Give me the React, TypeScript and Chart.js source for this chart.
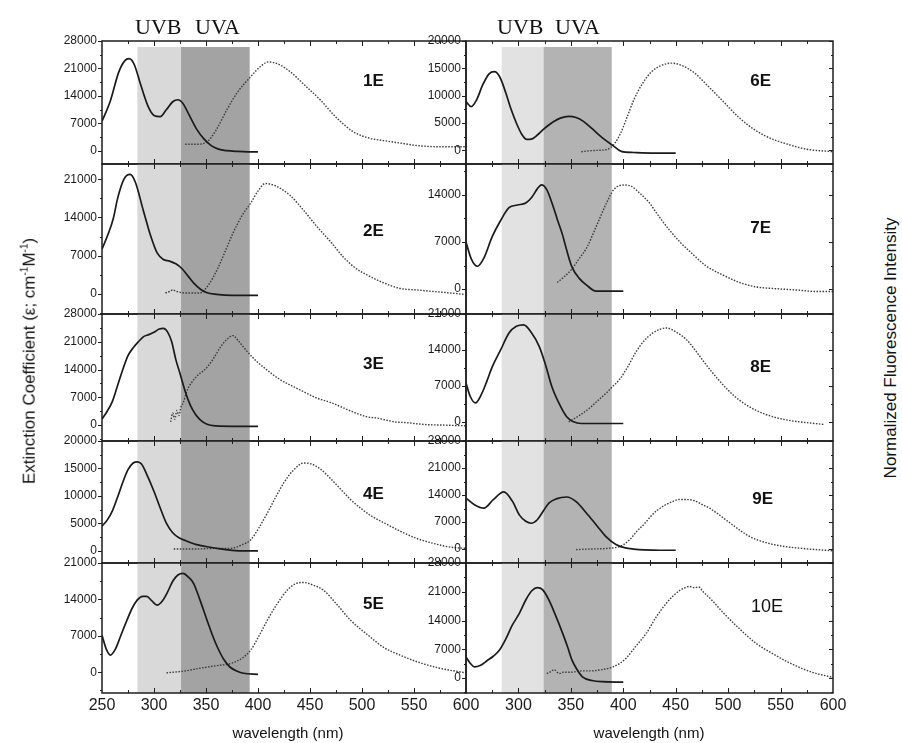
import React, { useEffect, useRef } from "react";
import { Chart, registerables } from "chart.js";

Chart.register(...registerables);

// ---------------- DATA ----------------
// wavelength tick labels
const X_TICKS_LEFT = [250, 300, 350, 400, 450, 500, 550, 600];
const X_TICKS_RIGHT = [300, 350, 400, 450, 500, 550, 600];

// UV bands (nm): [UVB, UVA]
const BANDS_LEFT = [[284, 326], [326, 392]];
const BANDS_RIGHT = [[284, 324], [324, 389]];

// 1E
const nm1E_abs = [250, 258, 266, 272, 276, 281, 287, 294, 300, 306, 312, 318, 323, 328, 334, 341, 348, 355, 362, 370, 380, 390, 400];
const eps1E = [7500, 12700, 20000, 23000, 23500, 22000, 17000, 11500, 9000, 8700, 10500, 12500, 13000, 12000, 9000, 5500, 3000, 1300, 400, 0, -200, -300, -300];
const nm1E_fl = [330, 340, 351, 360, 370, 380, 393, 402, 410, 420, 431, 445, 460, 475, 492, 507, 521, 537, 553, 575, 600];
const fl1E = [0.16, 0.16, 0.18, 0.28, 0.44, 0.58, 0.71, 0.79, 0.83, 0.81, 0.75, 0.64, 0.52, 0.38, 0.26, 0.21, 0.19, 0.17, 0.15, 0.14, 0.14];
const ticks1E = [0, 7000, 14000, 21000, 28000];
const range1E = [-3400, 28000];

// 2E
const nm2E_abs = [250, 256, 261, 265, 271, 277, 282, 290, 297, 303, 309, 315, 321, 327, 333, 338, 345, 351, 360, 375, 390, 400];
const eps2E = [8200, 11000, 13900, 17500, 21000, 21900, 20500, 15100, 10500, 7500, 6300, 6000, 5500, 4600, 3200, 2000, 800, 200, -100, -300, -300, -300];
const nm2E_fl = [311, 315, 318, 322, 330, 344, 352, 361, 368, 376, 385, 393, 400, 407, 418, 431, 444, 457, 470, 482, 493, 505, 520, 537, 553, 569, 585, 600];
const fl2E = [0.14, 0.15, 0.16, 0.15, 0.14, 0.14, 0.19, 0.30, 0.41, 0.54, 0.66, 0.74, 0.82, 0.87, 0.85, 0.79, 0.69, 0.58, 0.48, 0.38, 0.31, 0.26, 0.21, 0.17, 0.16, 0.15, 0.14, 0.13];
const ticks2E = [0, 7000, 14000, 21000];
const range2E = [-3700, 23800];

// 3E
const nm3E_abs = [250, 255, 260, 265, 270, 275, 280, 285, 290, 295, 300, 305, 309, 313, 317, 321, 325, 330, 335, 340, 345, 351, 360, 375, 400];
const eps3E = [1500, 3500, 6000, 10000, 14000, 17500, 19500, 21000, 22300, 22800, 23400, 24200, 24400, 23500, 21000, 16500, 13000, 8500, 5000, 2700, 1200, 200, -200, -300, -300];
const nm3E_fl = [316, 318, 320, 322, 324, 326, 328, 332, 340, 351, 358, 364, 370, 376, 381, 388, 397, 407, 420, 441, 456, 471, 488, 505, 515, 523, 532, 542, 560, 580, 600];
const fl3E = [0.15, 0.22, 0.17, 0.24, 0.2, 0.27, 0.3, 0.40, 0.50, 0.58, 0.66, 0.74, 0.80, 0.83, 0.79, 0.72, 0.64, 0.57, 0.49, 0.40, 0.34, 0.30, 0.24, 0.19, 0.18, 0.165, 0.15, 0.145, 0.13, 0.125, 0.12];
const ticks3E = [0, 7000, 14000, 21000, 28000];
const range3E = [-4000, 28000];

// 4E
const nm4E_abs = [250, 255, 260, 265, 270, 275, 280, 284, 288, 294, 300, 306, 312, 318, 324, 330, 340, 350, 362, 375, 390, 400];
const eps4E = [4500, 5600, 7300, 9800, 12500, 14800, 16000, 16200, 15800, 13500, 10800, 7800, 5000, 3300, 2400, 1900, 1200, 800, 400, 100, 0, 0];
const nm4E_fl = [319, 340, 360, 373, 385, 393, 401, 409, 417, 425, 434, 444, 452, 460, 470, 480, 489, 500, 510, 521, 537, 553, 569, 585, 600];
const fl4E = [0.115, 0.115, 0.12, 0.12, 0.15, 0.19, 0.29, 0.41, 0.54, 0.66, 0.76, 0.82, 0.81, 0.77, 0.69, 0.6, 0.52, 0.44, 0.38, 0.33, 0.26, 0.2, 0.16, 0.13, 0.12];
const ticks4E = [0, 5000, 10000, 15000, 20000];
const range4E = [-2200, 20000];

// 5E
const nm5E_abs = [250, 254, 258, 263, 268, 274, 279, 284, 289, 293, 298, 303, 308, 313, 318, 323, 328, 333, 338, 344, 351, 356, 361, 367, 373, 380, 386, 400];
const eps5E = [7100, 4500, 3300, 4500, 7000, 10000, 12300, 13900, 14600, 14600, 13700, 12900, 13700, 15400, 17500, 18700, 19000, 18300, 17100, 14000, 10000, 7200, 4800, 2500, 1000, 200, -200, -400];
const nm5E_fl = [312, 330, 344, 360, 375, 385, 393, 401, 409, 418, 428, 436, 444, 453, 463, 476, 489, 505, 521, 537, 553, 575, 600];
const fl5E = [0.155, 0.17, 0.19, 0.21, 0.23, 0.27, 0.33, 0.44, 0.56, 0.68, 0.79, 0.84, 0.85, 0.83, 0.79, 0.68, 0.56, 0.45, 0.35, 0.29, 0.24, 0.19, 0.155];
const ticks5E = [0, 7000, 14000, 21000];
const range5E = [-4000, 21000];

// 6E
const nm6E_abs = [250, 255, 260, 266, 272, 277, 282, 288, 293, 298, 303, 308, 313, 318, 323, 328, 333, 340, 348, 355, 362, 370, 377, 382, 390, 398, 410, 430, 450];
const eps6E = [8900, 8000, 9200, 12000, 14000, 14400, 13500, 10500, 7500, 5000, 3000, 2000, 2100, 2800, 3700, 4500, 5200, 5900, 6200, 6000, 5300, 4000, 2800, 2000, 900, -200, -400, -500, -500];
const nm6E_fl = [360, 372, 385, 392, 398, 404, 410, 418, 427, 436, 446, 456, 468, 480, 494, 510, 525, 540, 557, 575, 600];
const fl6E = [0.10, 0.11, 0.12, 0.17, 0.26, 0.39, 0.52, 0.65, 0.75, 0.80, 0.82, 0.80, 0.74, 0.64, 0.52, 0.38, 0.28, 0.21, 0.16, 0.12, 0.10];
const ticks6E = [0, 5000, 10000, 15000, 20000];
const range6E = [-2500, 20000];

// 7E
const nm7E_abs = [250, 255, 261, 267, 275, 283, 291, 299, 307, 313, 318, 322, 327, 332, 337, 342, 346, 351, 358, 365, 374, 385, 400];
const eps7E = [7000, 4500, 3400, 4600, 7800, 10200, 12100, 12500, 12800, 13700, 14900, 15500, 14800, 12800, 10400, 8100, 5800, 3300, 1600, 600, -300, -300, -300];
const nm7E_fl = [337, 344, 351, 358, 365, 374, 384, 391, 401, 408, 415, 425, 434, 444, 454, 466, 479, 495, 511, 527, 543, 565, 585, 600];
const fl7E = [0.21, 0.25, 0.30, 0.37, 0.44, 0.58, 0.74, 0.83, 0.86, 0.85, 0.81, 0.74, 0.65, 0.56, 0.48, 0.40, 0.32, 0.26, 0.21, 0.18, 0.17, 0.16, 0.15, 0.15];
const ticks7E = [0, 7000, 14000];
const range7E = [-3700, 18600];

// 8E
const nm8E_abs = [250, 254, 259, 265, 270, 275, 283, 291, 298, 305, 312, 320, 326, 332, 339, 346, 352, 360, 375, 400];
const eps8E = [7600, 5000, 3700, 5500, 8000, 10700, 14000, 17300, 18600, 18900, 17500, 14600, 11000, 6800, 3500, 1000, 100, -300, -300, -300];
const nm8E_fl = [348, 358, 368, 376, 384, 390, 396, 404, 412, 420, 428, 435, 441, 450, 460, 470, 479, 490, 500, 511, 527, 543, 560, 580, 592];
const fl8E = [0.15, 0.2, 0.26, 0.32, 0.38, 0.43, 0.48, 0.58, 0.70, 0.79, 0.85, 0.88, 0.89, 0.86, 0.80, 0.70, 0.60, 0.49, 0.40, 0.32, 0.24, 0.19, 0.16, 0.14, 0.13];
const ticks8E = [0, 7000, 14000, 21000];
const range8E = [-3700, 21000];

// 9E
const nm9E_abs = [250, 258, 267, 276, 286, 294, 301, 307, 312, 318, 324, 329, 336, 346, 355, 365, 375, 384, 393, 402, 410, 420, 435, 450];
const eps9E = [13200, 11500, 10600, 12800, 14800, 12500, 8800, 7200, 6700, 7600, 10000, 11900, 13000, 13500, 12300, 9300, 6000, 3100, 1200, 300, 0, -200, -300, -300];
const nm9E_fl = [355, 370, 385, 398, 406, 413, 420, 426, 432, 439, 446, 453, 460, 468, 475, 482, 489, 500, 511, 522, 535, 550, 570, 600];
const fl9E = [0.11, 0.115, 0.12, 0.14, 0.19, 0.26, 0.32, 0.38, 0.43, 0.47, 0.50, 0.52, 0.52, 0.51, 0.48, 0.45, 0.41, 0.34, 0.27, 0.21, 0.17, 0.14, 0.12, 0.10];
const ticks9E = [0, 7000, 14000, 21000, 28000];
const range9E = [-3600, 28000];

// 10E
const nm10E_abs = [250, 254, 258, 264, 270, 276, 282, 288, 294, 301, 307, 313, 318, 323, 329, 335, 342, 347, 351, 356, 361, 370, 380, 400];
const eps10E = [5100, 3600, 2700, 3100, 4200, 5300, 6800, 9500, 12800, 15800, 19000, 21300, 22000, 21500, 19000, 15500, 11000, 7500, 4400, 2000, 300, -600, -900, -1000];
const nm10E_fl = [327, 330, 334, 337, 339, 343, 350, 360, 368, 380, 390, 397, 403, 412, 422, 431, 441, 448, 454, 459, 463, 468, 472, 476, 485, 495, 510, 527, 543, 559, 580, 600];
const fl10E = [0.15, 0.16, 0.18, 0.16, 0.15, 0.16, 0.16, 0.17, 0.17, 0.18, 0.2, 0.23, 0.27, 0.36, 0.46, 0.58, 0.69, 0.75, 0.79, 0.81, 0.82, 0.81, 0.815, 0.78, 0.71, 0.62, 0.5, 0.38, 0.3, 0.23, 0.16, 0.12];
const ticks10E = [0, 7000, 14000, 21000, 28000];
const range10E = [-3650, 28000];

// ---------------- LAYOUT ----------------
const COLS = [
  { left: 102, right: 466 },
  { left: 466, right: 833 },
];
const ROWS = [41, 164, 314, 441, 563, 693];
const AXW = 70;
const PADT = 14;
const PADB = 14;
const PADR = 22;
const XAXH = 30;
const FONT = '"Liberation Sans", Arial, sans-serif';

type Spec = {
  name: string;
  col: number;
  row: number;
  absNm: number[];
  abs: number[];
  flNm: number[];
  fl: number[];
  ticks: number[];
  range: number[];
  labelNm: number;
  labelFrac: number;
  labelFont: string;
};

const BOLD = `bold 17px ${FONT}`;

const SPECS: Spec[] = [
  { name: "1E", col: 0, row: 0, absNm: nm1E_abs, abs: eps1E, flNm: nm1E_fl, fl: fl1E, ticks: ticks1E, range: range1E, labelNm: 511, labelFrac: 0.33, labelFont: BOLD },
  { name: "2E", col: 0, row: 1, absNm: nm2E_abs, abs: eps2E, flNm: nm2E_fl, fl: fl2E, ticks: ticks2E, range: range2E, labelNm: 511, labelFrac: 0.45, labelFont: BOLD },
  { name: "3E", col: 0, row: 2, absNm: nm3E_abs, abs: eps3E, flNm: nm3E_fl, fl: fl3E, ticks: ticks3E, range: range3E, labelNm: 511, labelFrac: 0.40, labelFont: BOLD },
  { name: "4E", col: 0, row: 3, absNm: nm4E_abs, abs: eps4E, flNm: nm4E_fl, fl: fl4E, ticks: ticks4E, range: range4E, labelNm: 511, labelFrac: 0.44, labelFont: BOLD },
  { name: "5E", col: 0, row: 4, absNm: nm5E_abs, abs: eps5E, flNm: nm5E_fl, fl: fl5E, ticks: ticks5E, range: range5E, labelNm: 511, labelFrac: 0.32, labelFont: BOLD },
  { name: "6E", col: 1, row: 0, absNm: nm6E_abs, abs: eps6E, flNm: nm6E_fl, fl: fl6E, ticks: ticks6E, range: range6E, labelNm: 531, labelFrac: 0.33, labelFont: BOLD },
  { name: "7E", col: 1, row: 1, absNm: nm7E_abs, abs: eps7E, flNm: nm7E_fl, fl: fl7E, ticks: ticks7E, range: range7E, labelNm: 531, labelFrac: 0.43, labelFont: BOLD },
  { name: "8E", col: 1, row: 2, absNm: nm8E_abs, abs: eps8E, flNm: nm8E_fl, fl: fl8E, ticks: ticks8E, range: range8E, labelNm: 531, labelFrac: 0.42, labelFont: BOLD },
  { name: "9E", col: 1, row: 3, absNm: nm9E_abs, abs: eps9E, flNm: nm9E_fl, fl: fl9E, ticks: ticks9E, range: range9E, labelNm: 533, labelFrac: 0.475, labelFont: BOLD },
  { name: "10E", col: 1, row: 4, absNm: nm10E_abs, abs: eps10E, flNm: nm10E_fl, fl: fl10E, ticks: ticks10E, range: range10E, labelNm: 537, labelFrac: 0.34, labelFont: `18px ${FONT}` },
];

function makeFrame(spec: Spec) {
  return {
    id: "frame" + spec.name,
    beforeDatasetsDraw(chart: any) {
      const { ctx, chartArea: a } = chart;
      const xs = chart.scales.x;
      const bands = spec.col === 0 ? BANDS_LEFT : BANDS_RIGHT;
      const colors = spec.col === 0 ? ["#d9d9d9", "#a3a3a3"] : ["#e2e2e2", "#b3b3b3"];
      const top = a.top + (spec.row === 0 ? 6 : 0);
      ctx.save();
      bands.forEach((b, i) => {
        const x0 = xs.getPixelForValue(b[0]);
        const x1 = xs.getPixelForValue(b[1]);
        ctx.fillStyle = colors[i];
        ctx.fillRect(x0, top, x1 - x0, a.bottom - top);
      });
      ctx.restore();
    },
    afterDatasetsDraw(chart: any) {
      const { ctx, chartArea: a } = chart;
      const xs = chart.scales.x;
      const ys = chart.scales.y;
      ctx.save();
      ctx.strokeStyle = "#1e1e1e";
      ctx.lineWidth = 1.5;
      ctx.strokeRect(a.left, a.top, a.right - a.left, a.bottom - a.top);
      ctx.lineWidth = 1;
      ctx.beginPath();
      for (let v = 275; v < 600; v += 25) {
        const px = Math.round(xs.getPixelForValue(v)) + 0.5;
        const len = v % 50 === 0 ? 5 : 3;
        ctx.moveTo(px, a.top);
        ctx.lineTo(px, a.top + len);
        ctx.moveTo(px, a.bottom);
        ctx.lineTo(px, a.bottom - len);
      }
      const t = spec.ticks;
      const step = t[1] - t[0];
      for (let v = t[0] - step; v <= ys.max + 1; v += step / 2) {
        if (v < ys.min) continue;
        const major = Math.abs(((v - t[0]) / step) - Math.round((v - t[0]) / step)) < 1e-6 && v >= t[0];
        const py = Math.round(ys.getPixelForValue(v)) + 0.5;
        const len = major ? 4 : 2;
        ctx.moveTo(a.left, py);
        ctx.lineTo(a.left - len, py);
        if (spec.col === 1) {
          ctx.moveTo(a.right, py);
          ctx.lineTo(a.right - len, py);
        }
      }
      ctx.stroke();
      ctx.fillStyle = "#111";
      ctx.font = spec.labelFont;
      ctx.textAlign = "center";
      ctx.textBaseline = "middle";
      ctx.fillText(spec.name, xs.getPixelForValue(spec.labelNm), a.top + spec.labelFrac * (a.bottom - a.top));
      ctx.restore();
    },
  };
}

function Panel({ spec }: { spec: Spec }) {
  const ref = useRef<HTMLCanvasElement>(null);
  const c = COLS[spec.col];
  const top = ROWS[spec.row];
  const bottom = ROWS[spec.row + 1];
  const bottomRow = spec.row === 4;
  const w = AXW + (c.right - c.left) + PADR;
  const h = PADT + (bottom - top) + (bottomRow ? XAXH : PADB);

  useEffect(() => {
    if (!ref.current) return;
    const xTicks = spec.col === 0 ? X_TICKS_LEFT : X_TICKS_RIGHT;
    const chart = new Chart(ref.current, {
      type: "line",
      data: {
        datasets: [
          {
            label: "absorption",
            data: spec.absNm.map((x, i) => ({ x, y: spec.abs[i] })),
            yAxisID: "y",
            borderColor: "#1a1a1a",
            borderWidth: 1.7,
            pointRadius: 0,
            cubicInterpolationMode: "monotone",
            fill: false,
          },
          {
            label: "fluorescence",
            data: spec.flNm.map((x, i) => ({ x, y: spec.fl[i] })),
            yAxisID: "y2",
            borderColor: "#3a3a3a",
            borderWidth: 1.4,
            borderDash: [1.5, 1.5],
            pointRadius: 0,
            cubicInterpolationMode: "monotone",
            fill: false,
          },
        ],
      },
      options: {
        animation: false,
        responsive: false,
        maintainAspectRatio: false,
        devicePixelRatio: 1,
        layout: { padding: { left: 0, right: PADR, top: PADT, bottom: bottomRow ? 0 : PADB } },
        plugins: { legend: { display: false }, tooltip: { enabled: false } },
        scales: {
          x: {
            type: "linear",
            min: 250,
            max: 600,
            display: bottomRow,
            grid: { display: false, drawTicks: false },
            border: { display: false },
            ticks: {
              autoSkip: false,
              maxRotation: 0,
              padding: 3,
              color: "#1a1a1a",
              font: { family: FONT, size: 16 },
              callback: (v: any) => String(v),
            },
            afterBuildTicks: (s: any) => {
              s.ticks = xTicks.map((v) => ({ value: v }));
            },
            afterFit: (s: any) => {
              s.height = bottomRow ? XAXH : 0;
            },
          },
          y: {
            type: "linear",
            position: "left",
            min: spec.range[0],
            max: spec.range[1],
            grid: { display: false, drawTicks: false },
            border: { display: false },
            ticks: {
              autoSkip: false,
              padding: 5,
              color: "#1a1a1a",
              font: { family: FONT, size: 12 },
              callback: (v: any) => String(v),
            },
            afterBuildTicks: (s: any) => {
              s.ticks = spec.ticks.map((v) => ({ value: v }));
            },
            afterFit: (s: any) => {
              s.width = AXW;
            },
          },
          y2: { type: "linear", min: 0, max: 1, display: false },
        },
      } as any,
      plugins: [makeFrame(spec)],
    });
    return () => chart.destroy();
  }, []);

  return (
    <canvas
      ref={ref}
      width={w}
      height={h}
      style={{ position: "absolute", left: c.left - AXW, top: top - PADT, width: w, height: h }}
    />
  );
}

const textBase: React.CSSProperties = {
  position: "absolute",
  whiteSpace: "nowrap",
  color: "#111",
};

export default function App() {
  return (
    <div style={{ position: "absolute", left: 0, top: 0, width: 902, height: 743, background: "#ffffff", overflow: "hidden" }}>
      {SPECS.map((s) => (
        <Panel key={s.name} spec={s} />
      ))}
      <div style={{ ...textBase, left: 135, top: 14, font: `22px "Liberation Serif", "Times New Roman", serif`, lineHeight: "26px" }}>UVB</div>
      <div style={{ ...textBase, left: 195, top: 14, font: `22px "Liberation Serif", "Times New Roman", serif`, lineHeight: "26px" }}>UVA</div>
      <div style={{ ...textBase, left: 497, top: 14, font: `22px "Liberation Serif", "Times New Roman", serif`, lineHeight: "26px" }}>UVB</div>
      <div style={{ ...textBase, left: 555, top: 14, font: `22px "Liberation Serif", "Times New Roman", serif`, lineHeight: "26px" }}>UVA</div>
      <div
        style={{
          ...textBase,
          left: 29,
          top: 361,
          transform: "translate(-50%, -50%) rotate(-90deg)",
          font: `17px ${FONT}`,
        }}
      >
        Extinction Coefficient (ε; cm<sup style={{ fontSize: "10px" }}>-1</sup>M<sup style={{ fontSize: "10px" }}>-1</sup>)
      </div>
      <div
        style={{
          ...textBase,
          left: 891,
          top: 348,
          transform: "translate(-50%, -50%) rotate(-90deg)",
          font: `17px ${FONT}`,
        }}
      >
        Normalized Fluorescence Intensity
      </div>
      <div style={{ ...textBase, left: 288, top: 732, transform: "translate(-50%, -50%)", font: `15px ${FONT}` }}>wavelength (nm)</div>
      <div style={{ ...textBase, left: 649, top: 732, transform: "translate(-50%, -50%)", font: `15px ${FONT}` }}>wavelength (nm)</div>
    </div>
  );
}
